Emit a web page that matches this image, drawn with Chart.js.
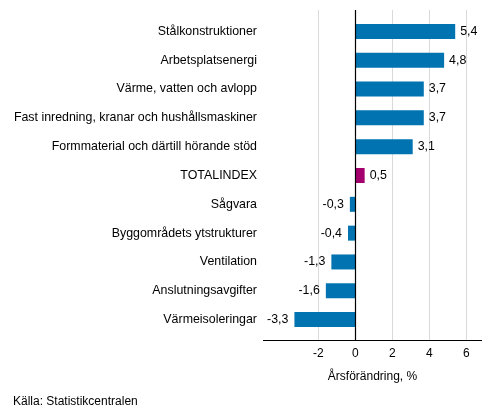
<!DOCTYPE html>
<html>
<head>
<meta charset="utf-8">
<script src="https://cdn.jsdelivr.net/npm/chart.js@4"></script>
<style>
  html, body { margin: 0; padding: 0; background: #fff; }
  #wrap { width: 493px; height: 416px; position: relative; }
</style>
</head>
<body>
<div id="wrap"><canvas id="chart"></canvas></div>
<script>
const categories = [
    'Stålkonstruktioner',
    'Arbetsplatsenergi',
    'Värme, vatten och avlopp',
    'Fast inredning, kranar och hushållsmaskiner',
    'Formmaterial och därtill hörande stöd',
    'TOTALINDEX',
    'Sågvara',
    'Byggområdets ytstrukturer',
    'Ventilation',
    'Anslutningsavgifter',
    'Värmeisoleringar',
];
const values = [5.4, 4.8, 3.7, 3.7, 3.1, 0.5, -0.3, -0.4, -1.3, -1.6, -3.3];
const xTicks = [-2, 0, 2, 4, 6];
const axisTitle = 'Årsförändring, %';
const sourceText = 'Källa: Statistikcentralen';

const blue = '#0073b0';
const magenta = '#a3006e';
const font = 'Liberation Sans, Arial, sans-serif';

const fmt = (v) => String(v).replace('.', ',');

// grid lines reach a bit past the category bands, like the original
const gridExtend = 7;

const decorations = {
    id: 'decorations',
    beforeDatasetsDraw(chart) {
        const { ctx, chartArea } = chart;
        const x = chart.scales.x;
        const top = chartArea.top - gridExtend;
        const bottom = chartArea.bottom + gridExtend - 1;
        ctx.save();
        xTicks.forEach((v) => {
            if (v === 0) return;
            const px = Math.round(x.getPixelForValue(v)) + 0.5;
            ctx.strokeStyle = '#d9d9d9';
            ctx.lineWidth = 1;
            ctx.beginPath();
            ctx.moveTo(px, top);
            ctx.lineTo(px, bottom);
            ctx.stroke();
        });
        ctx.restore();
    },
    afterDatasetsDraw(chart) {
        const { ctx, chartArea } = chart;
        const x = chart.scales.x;
        const top = chartArea.top - gridExtend;
        const bottom = chartArea.bottom + gridExtend - 1;
        ctx.save();
        // zero line and bottom axis line
        const zx = Math.round(x.getPixelForValue(0)) + 0.5;
        ctx.strokeStyle = '#000';
        ctx.lineWidth = 1.2;
        ctx.beginPath();
        ctx.moveTo(zx, top);
        ctx.lineTo(zx, bottom);
        ctx.moveTo(chartArea.left, bottom + 0.5);
        ctx.lineTo(chartArea.right, bottom + 0.5);
        ctx.stroke();

        // value labels
        const meta = chart.getDatasetMeta(0);
        ctx.font = '12.4px ' + font;
        ctx.fillStyle = '#000';
        ctx.textBaseline = 'middle';
        meta.data.forEach((bar, i) => {
            const v = values[i];
            if (v >= 0) {
                ctx.textAlign = 'left';
                ctx.fillText(fmt(v), bar.x + 5, bar.y);
            } else {
                ctx.textAlign = 'right';
                ctx.fillText(fmt(v), bar.x - 6, bar.y);
            }
        });
        ctx.restore();
    },
    afterDraw(chart) {
        const ctx = chart.ctx;
        ctx.save();
        ctx.font = '12px ' + font;
        ctx.fillStyle = '#000';
        ctx.textAlign = 'left';
        ctx.textBaseline = 'middle';
        ctx.fillText(sourceText, 13, 402);
        ctx.restore();
    },
};

new Chart(document.getElementById('chart'), {
    type: 'bar',
    data: {
        labels: categories,
        datasets: [
            {
                data: values,
                backgroundColor: categories.map((c) => (c === 'TOTALINDEX' ? magenta : blue)),
                borderWidth: 0,
                categoryPercentage: 1,
                barPercentage: 0.52,
            },
        ],
    },
    options: {
        indexAxis: 'y',
        responsive: true,
        maintainAspectRatio: false,
        animation: false,
        layout: { padding: { top: 17, right: 11, left: 0, bottom: 32 } },
        plugins: {
            legend: { display: false },
            tooltip: { enabled: false },
        },
        scales: {
            x: {
                min: -5,
                max: 6.85,
                afterBuildTicks: (scale) => {
                    scale.ticks = xTicks.map((v) => ({ value: v }));
                },
                afterFit: (scale) => {
                    scale.height = 50;
                },
                ticks: {
                    color: '#000',
                    font: { family: font, size: 12 },
                    padding: 12,
                    callback: (v) => fmt(v),
                },
                grid: { display: false, drawTicks: false },
                border: { display: false },
                title: {
                    display: true,
                    text: axisTitle,
                    color: '#000',
                    font: { family: font, size: 12 },
                    padding: { top: 0, bottom: 0 },
                },
            },
            y: {
                afterFit: (scale) => {
                    scale.width = 263;
                },
                ticks: {
                    color: '#000',
                    font: { family: font, size: 12.4 },
                    padding: 6,
                },
                grid: { display: false, drawTicks: false },
                border: { display: false },
            },
        },
    },
    plugins: [decorations],
});
</script>
</body>
</html>
